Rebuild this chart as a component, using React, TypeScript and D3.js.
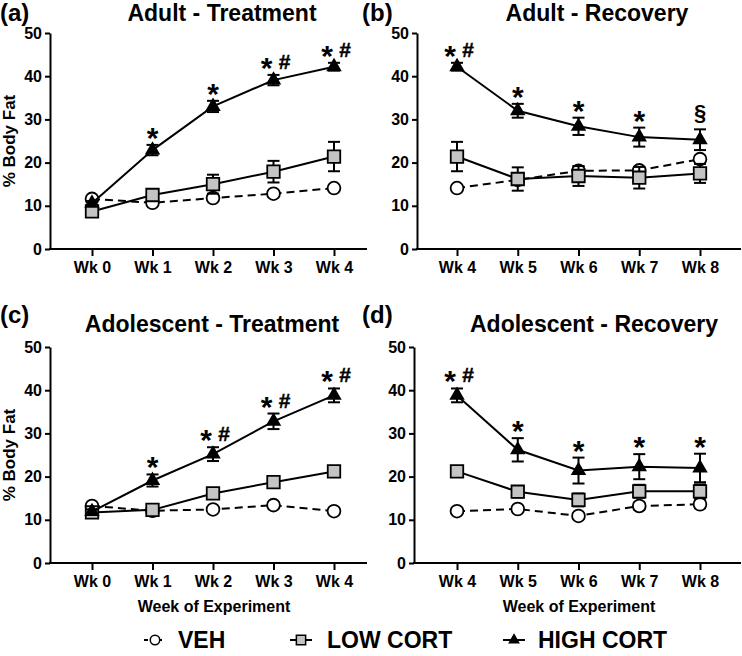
import React, { useEffect, useRef } from 'react'
import * as d3 from 'd3'

const treatmentWeeks = ['Wk 0', 'Wk 1', 'Wk 2', 'Wk 3', 'Wk 4']
const recoveryWeeks = ['Wk 4', 'Wk 5', 'Wk 6', 'Wk 7', 'Wk 8']
const yTicks = [0, 10, 20, 30, 40, 50]

// (a) adult - treatment
const adultTreatVeh = [11.6, 10.7, 11.8, 12.8, 14.1]
const adultTreatVehErr = [0.5, 0.5, 0.5, 0.6, 0.6]
const adultTreatLow = [8.7, 12.5, 15.0, 17.9, 21.4]
const adultTreatLowErr = [0.8, 0.9, 2.2, 2.5, 3.4]
const adultTreatHigh = [10.6, 22.9, 33.0, 39.1, 42.2]
const adultTreatHighErr = [0.5, 1.2, 1.3, 1.2, 0.9]
const adultTreatMarks = ['', '*', '*', '*#', '*#']

// (b) adult - recovery
const adultRecVeh = [14.1, 16.0, 18.1, 18.2, 20.8]
const adultRecVehErr = [0.6, 0.8, 1.0, 0.8, 0.8]
const adultRecLow = [21.4, 16.2, 16.9, 16.5, 17.5]
const adultRecLowErr = [3.4, 2.7, 2.3, 2.5, 2.2]
const adultRecHigh = [42.2, 32.0, 28.4, 25.9, 25.3]
const adultRecHighErr = [0.9, 1.6, 2.0, 2.2, 2.4]
const adultRecMarks = ['*#', '*', '*', '*', '§']

// (c) adolescent - treatment
const adolTreatVeh = [13.2, 12.1, 12.4, 13.4, 12.0]
const adolTreatVehErr = [0.5, 0.5, 0.5, 0.6, 0.5]
const adolTreatLow = [11.7, 12.3, 16.1, 18.7, 21.2]
const adolTreatLowErr = [0.6, 0.6, 0.7, 0.7, 0.9]
const adolTreatHigh = [11.9, 19.1, 25.2, 32.8, 38.8]
const adolTreatHighErr = [0.5, 1.4, 1.6, 1.8, 1.6]
const adolTreatMarks = ['', '*', '*#', '*#', '*#']

// (d) adolescent - recovery
const adolRecVeh = [12.0, 12.5, 10.9, 13.2, 13.6]
const adolRecVehErr = [0.5, 0.6, 0.6, 0.8, 0.9]
const adolRecLow = [21.2, 16.5, 14.6, 16.6, 16.6]
const adolRecLowErr = [0.7, 1.3, 1.5, 1.5, 1.6]
const adolRecHigh = [38.8, 26.2, 21.4, 22.3, 22.0]
const adolRecHighErr = [1.6, 2.7, 3.0, 2.9, 3.3]
const adolRecMarks = ['*#', '*', '*', '*', '*']

const seriesNames = ['VEH', 'LOW CORT', 'HIGH CORT']

const FONT = "'Liberation Sans', Arial, Helvetica, sans-serif"

const panels = [
  { letter: '(a)', title: 'Adult - Treatment', weeks: treatmentWeeks,
    veh: adultTreatVeh, vehErr: adultTreatVehErr, low: adultTreatLow, lowErr: adultTreatLowErr,
    high: adultTreatHigh, highErr: adultTreatHighErr, marks: adultTreatMarks,
    left: 50, right: 367, p0: 92, p1: 334, top: 33, bottom: 249,
    titleX: 222, titleY: 21, letterX: 0, letterY: 21, yLabel: true, xLabel: false },
  { letter: '(b)', title: 'Adult - Recovery', weeks: recoveryWeeks,
    veh: adultRecVeh, vehErr: adultRecVehErr, low: adultRecLow, lowErr: adultRecLowErr,
    high: adultRecHigh, highErr: adultRecHighErr, marks: adultRecMarks,
    left: 417, right: 741, p0: 457, p1: 700, top: 33, bottom: 249,
    titleX: 597, titleY: 21, letterX: 362, letterY: 21, yLabel: false, xLabel: false },
  { letter: '(c)', title: 'Adolescent - Treatment', weeks: treatmentWeeks,
    veh: adolTreatVeh, vehErr: adolTreatVehErr, low: adolTreatLow, lowErr: adolTreatLowErr,
    high: adolTreatHigh, highErr: adolTreatHighErr, marks: adolTreatMarks,
    left: 50, right: 367, p0: 92, p1: 334, top: 347, bottom: 563,
    titleX: 212, titleY: 332, letterX: 0, letterY: 323, yLabel: true, xLabel: true, xLabelX: 214 },
  { letter: '(d)', title: 'Adolescent - Recovery', weeks: recoveryWeeks,
    veh: adolRecVeh, vehErr: adolRecVehErr, low: adolRecLow, lowErr: adolRecLowErr,
    high: adolRecHigh, highErr: adolRecHighErr, marks: adolRecMarks,
    left: 414, right: 741, p0: 457, p1: 700, top: 347, bottom: 563,
    titleX: 594, titleY: 332, letterX: 362, letterY: 323, yLabel: false, xLabel: true, xLabelX: 579 }
]

const styles = {
  VEH: { symbol: d3.symbolCircle, size: 128, fill: '#fff', dash: '8,5' },
  'LOW CORT': { symbol: d3.symbolSquare, size: 156, fill: '#c4c4c4', dash: null },
  'HIGH CORT': { symbol: d3.symbolTriangle, size: 66, fill: '#000', dash: null }
}

function drawPanel(svg, p) {
  const x = d3.scalePoint().domain(p.weeks).range([p.p0, p.p1])
  const y = d3.scaleLinear().domain([0, 50]).range([p.bottom, p.top])
  const g = svg.append('g').attr('font-family', FONT)

  // y axis
  const ya = g.append('g')
    .attr('transform', `translate(${p.left},0)`)
    .call(d3.axisLeft(y).tickValues(yTicks).tickSize(5).tickPadding(3).tickSizeOuter(0))
  ya.selectAll('path, line').attr('stroke', '#000').attr('stroke-width', 2)
  ya.selectAll('text').attr('font-size', 16).attr('font-weight', 'bold').attr('font-family', FONT).attr('fill', '#000')

  // x axis
  g.append('line')
    .attr('x1', p.left - 1).attr('x2', p.right)
    .attr('y1', p.bottom).attr('y2', p.bottom)
    .attr('stroke', '#000').attr('stroke-width', 2)
  const xa = g.append('g')
    .attr('transform', `translate(0,${p.bottom})`)
    .call(d3.axisBottom(x).tickSize(7).tickPadding(6))
  xa.select('.domain').remove()
  xa.selectAll('line').attr('stroke', '#000').attr('stroke-width', 2)
  xa.selectAll('text').attr('font-size', 16).attr('font-weight', 'bold').attr('font-family', FONT).attr('fill', '#000')

  // titles
  g.append('text').attr('x', p.titleX).attr('y', p.titleY)
    .attr('text-anchor', 'middle').attr('font-size', 23).attr('font-weight', 'bold')
    .text(p.title)
  g.append('text').attr('x', p.letterX).attr('y', p.letterY)
    .attr('font-size', 24).attr('font-weight', 'bold')
    .text(p.letter)

  if (p.yLabel) {
    g.append('text')
      .attr('transform', `translate(15,${(p.top + p.bottom) / 2}) rotate(-90)`)
      .attr('text-anchor', 'middle').attr('font-size', 17).attr('font-weight', 'bold')
      .text('% Body Fat')
  }
  if (p.xLabel) {
    g.append('text').attr('x', p.xLabelX).attr('y', p.bottom + 49)
      .attr('text-anchor', 'middle').attr('font-size', 16).attr('font-weight', 'bold')
      .text('Week of Experiment')
  }

  const series = [
    { name: 'VEH', values: p.veh, errs: p.vehErr },
    { name: 'LOW CORT', values: p.low, errs: p.lowErr },
    { name: 'HIGH CORT', values: p.high, errs: p.highErr }
  ]

  const line = d3.line().x(d => x(d.week)).y(d => y(d.v))

  series.forEach(s => {
    const st = styles[s.name]
    const pts = s.values.map((v, i) => ({ week: p.weeks[i], v, e: s.errs[i] }))
    const sg = g.append('g')
    sg.append('path')
      .attr('d', line(pts))
      .attr('fill', 'none').attr('stroke', '#000').attr('stroke-width', 2)
      .attr('stroke-dasharray', st.dash)

    const eb = sg.append('g').selectAll('g').data(pts).join('g')
      .attr('stroke', '#000').attr('stroke-width', 2)
    eb.append('line')
      .attr('x1', d => x(d.week)).attr('x2', d => x(d.week))
      .attr('y1', d => y(d.v - d.e)).attr('y2', d => y(d.v + d.e))
    eb.append('line')
      .attr('x1', d => x(d.week) - 6).attr('x2', d => x(d.week) + 6)
      .attr('y1', d => y(d.v + d.e)).attr('y2', d => y(d.v + d.e))
    eb.append('line')
      .attr('x1', d => x(d.week) - 6).attr('x2', d => x(d.week) + 6)
      .attr('y1', d => y(d.v - d.e)).attr('y2', d => y(d.v - d.e))

    sg.append('g').selectAll('path').data(pts).join('path')
      .attr('transform', d => `translate(${x(d.week)},${y(d.v)})`)
      .attr('d', d3.symbol(st.symbol, st.size)())
      .attr('fill', st.fill).attr('stroke', '#000').attr('stroke-width', 1.8)
  })

  // significance marks above the HIGH CORT error bars
  p.marks.forEach((m, i) => {
    if (!m) return
    const cx = x(p.weeks[i])
    const top = y(p.high[i] + p.highErr[i])
    if (m === '§') {
      g.append('text').attr('x', cx).attr('y', top - 9)
        .attr('text-anchor', 'middle').attr('font-size', 22).attr('font-weight', 'bold')
        .text('§')
      return
    }
    const both = m.includes('#')
    g.append('text').attr('x', both ? cx - 7 : cx).attr('y', top + 3)
      .attr('text-anchor', 'middle').attr('font-size', 30).attr('font-weight', 'bold')
      .text('*')
    if (both) {
      g.append('text').attr('x', cx + 11).attr('y', top - 6)
        .attr('text-anchor', 'middle').attr('font-size', 21).attr('font-weight', 'bold')
        .attr('stroke', '#000').attr('stroke-width', 0.4)
        .text('#')
    }
  })
}

function drawLegend(svg) {
  const items = [
    { name: seriesNames[0], sx: 155, tx: 178 },
    { name: seriesNames[1], sx: 301, tx: 327 },
    { name: seriesNames[2], sx: 514, tx: 538 }
  ]
  const cy = 640
  const lg = svg.append('g').attr('font-family', FONT)
  items.forEach(it => {
    const st = styles[it.name]
    lg.append('line')
      .attr('x1', it.sx - 11).attr('x2', it.sx + 11)
      .attr('y1', cy).attr('y2', cy)
      .attr('stroke', '#000').attr('stroke-width', 2)
      .attr('stroke-dasharray', st.dash ? '4,10' : null)
    lg.append('path')
      .attr('transform', `translate(${it.sx},${cy})`)
      .attr('d', d3.symbol(st.symbol, st.size * 0.55)())
      .attr('fill', st.fill).attr('stroke', '#000').attr('stroke-width', 1.5)
    lg.append('text').attr('x', it.tx).attr('y', 648)
      .attr('font-size', 23).attr('font-weight', 'bold')
      .text(it.name)
  })
}

function PanelFigure() {
  const ref = useRef(null)

  useEffect(() => {
    const svg = d3.select(ref.current)
    svg.selectAll('*').remove()
    svg.append('rect').attr('width', 742).attr('height', 656).attr('fill', '#fff')
    panels.forEach(p => drawPanel(svg, p))
    drawLegend(svg)
  }, [])

  return (
    <svg ref={ref} width={742} height={656}
      style={{ position: 'absolute', left: 0, top: 0, display: 'block' }} />
  )
}

export default function App() {
  return <PanelFigure />
}
